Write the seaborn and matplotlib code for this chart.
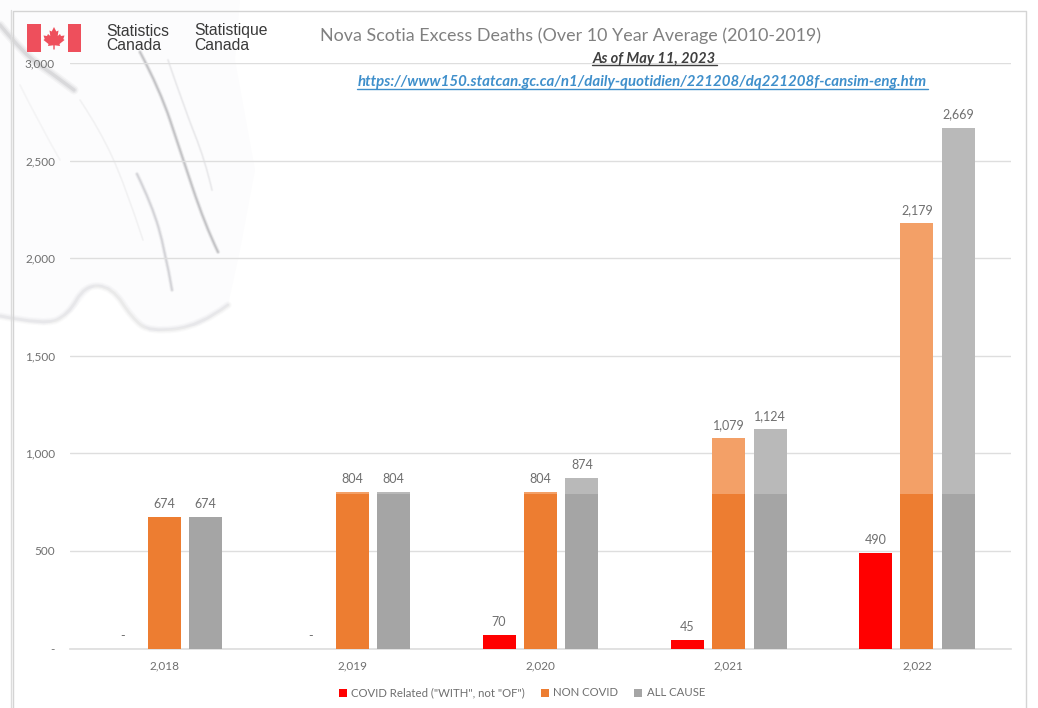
import matplotlib
matplotlib.use("Agg")
import matplotlib.pyplot as plt
import pandas as pd
import seaborn as sns
from matplotlib.patches import PathPatch, Polygon, Rectangle
from matplotlib.path import Path

years = ['2,018', '2,019', '2,020', '2,021', '2,022']
series_names = ['COVID Related ("WITH", not "OF")', 'NON COVID', 'ALL CAUSE']
covid_related = [0, 0, 70, 45, 490]
non_covid = [674, 804, 804, 1079, 2179]
all_cause = [674, 804, 874, 1124, 2669]
# the darker bottom part of the bars, 10 year average
average_deaths = 790

y_ticks = [0, 500, 1000, 1500, 2000, 2500, 3000]
y_labels = ['-', '500', '1,000', '1,500', '2,000', '2,500', '3,000']

W, H = 1038, 708
LABEL_GREY = '#6f6f6f'
GRID_GREY = '#dedede'


def smooth_path(points):
    # quadratic curve through the midpoints, keeps the watermark from looking like a polyline
    verts = [points[0]]
    codes = [Path.MOVETO]
    for i in range(1, len(points) - 1):
        next_point = points[i + 1]
        if i < len(points) - 2:
            next_point = ((points[i][0] + points[i + 1][0]) / 2, (points[i][1] + points[i + 1][1]) / 2)
        verts += [points[i], next_point]
        codes += [Path.CURVE3, Path.CURVE3]
    return Path(verts, codes)


def soft_stroke(target, points, width, strength):
    # a few widths on top of each other to get a blurred edge
    for factor, part in [(2.2, 0.25), (1.5, 0.35), (0.8, 0.6)]:
        target.add_patch(PathPatch(smooth_path(points), facecolor='none', edgecolor='#66666c',
                                   lw=width * factor, alpha=strength * part, capstyle='round'))


sns.set_theme(style="white")
plt.rcParams['font.family'] = ['Lato', 'DejaVu Sans']

fig = plt.figure(figsize=(W / 100, H / 100), dpi=100)
fig.patch.set_facecolor('white')

# background layer in pixel coordinates: watermark, logo and frame
bg = fig.add_axes([0, 0, 1, 1], zorder=0)
bg.set_xlim(0, W)
bg.set_ylim(H, 0)
bg.axis('off')

blob = [(0, 0), (240, 0), (235, 60), (255, 170), (240, 250), (228, 305), (200, 325), (150, 332),
        (132, 312), (115, 290), (95, 285), (72, 312), (45, 325), (0, 318)]
bg.add_patch(Polygon(blob, closed=True, facecolor='#fcfcfd', edgecolor='none'))

soft_stroke(bg, [(0, 316), (45, 325), (68, 315), (85, 285), (112, 287), (132, 318), (150, 332), (200, 326),
                 (228, 305)], 2.5, 0.11)
soft_stroke(bg, [(140, 52), (160, 90), (180, 150), (205, 225), (218, 252)], 1.5, 0.34)
soft_stroke(bg, [(168, 60), (185, 110), (205, 160), (212, 190)], 1, 0.1)
soft_stroke(bg, [(137, 174), (152, 205), (165, 250), (172, 290)], 1.5, 0.22)
soft_stroke(bg, [(80, 100), (100, 130), (125, 185), (143, 240)], 0.8, 0.06)
soft_stroke(bg, [(0, 25), (25, 55), (50, 72), (74, 90)], 3, 0.2)
soft_stroke(bg, [(20, 85), (40, 125), (60, 160)], 0.8, 0.04)

# frame of the chart
bg.plot([13, 13, 1026, 1026], [H, 11, 11, H], color='#d4d4d4', lw=1)
bg.plot([11, 11], [10, H], color='#dcdcdc', lw=1)

# flag
flag_red = '#ee4f5c'
bg.add_patch(Rectangle((27, 24), 14, 27.5, facecolor=flag_red, edgecolor='none'))
bg.add_patch(Rectangle((67.5, 24), 13.5, 27.5, facecolor=flag_red, edgecolor='none'))
leaf = [(54, 27), (56.3, 31.5), (58.5, 30.5), (57.7, 36), (60, 34), (61, 36), (64.5, 35.5), (63.3, 39),
        (64.5, 40), (59.5, 44), (60, 46), (54.7, 45.3), (54.7, 49.5), (53.3, 49.5), (53.3, 45.3), (48, 46),
        (48.5, 44), (43.5, 40), (44.7, 39), (43.5, 35.5), (47, 36), (48, 34), (50.3, 36), (49.5, 30.5),
        (51.7, 31.5)]
bg.add_patch(Polygon(leaf, closed=True, facecolor=flag_red, edgecolor='none'))

for x, top, bottom in [(106, 'Statistics', 'Canada'), (194, 'Statistique', 'Canada')]:
    bg.text(x, 31, top, family='Liberation Sans', fontsize=11.3, color='#3a3a3a', va='center')
    bg.text(x, 46, bottom, family='Liberation Sans', fontsize=11.3, color='#3a3a3a', va='center')

# chart
ax = fig.add_axes([70 / W, 1 - 648.5 / H, (1011 - 70) / W, (648.5 - 63) / H], zorder=1)
ax.patch.set_alpha(0)

values = covid_related + non_covid + all_cause
df = pd.DataFrame({
    'year': years * 3,
    'series': [name for name in series_names for _ in years],
    'value': values,
})
df['base'] = [v if name == series_names[0] else min(v, average_deaths)
              for v, name in zip(df['value'], df['series'])]

light = dict(zip(series_names, ['#ff0000', '#f3a067', '#b9b9b9']))
dark = dict(zip(series_names, ['#ff0000', '#ed7d31', '#a5a5a5']))

sns.barplot(data=df, x='year', y='value', hue='series', palette=light, width=0.66, gap=0.2,
            saturation=1, legend=False, errorbar=None, linewidth=0, ax=ax, zorder=2)
top_containers = list(ax.containers)
sns.barplot(data=df, x='year', y='base', hue='series', palette=dark, width=0.66, gap=0.2,
            saturation=1, errorbar=None, linewidth=0, ax=ax, zorder=3)

# value labels, zero shows as a dash like in the spreadsheet
for container, vals in zip(top_containers, [covid_related, non_covid, all_cause]):
    labels = [f'{v:,}' if v else '-' for v in vals]
    ax.bar_label(container, labels=labels, padding=5, fontsize=9, color=LABEL_GREY, zorder=5)

ax.set_xlim(-0.5, 4.5)
ax.set_ylim(0, 3000)
ax.set_yticks(y_ticks, y_labels)
ax.set_xlabel('')
ax.set_ylabel('')
ax.tick_params(axis='both', length=0, labelsize=8.5, labelcolor=LABEL_GREY)
ax.tick_params(axis='y', pad=10.8)
ax.tick_params(axis='x', pad=8.5)
ax.grid(axis='y', color=GRID_GREY, lw=1)
ax.set_axisbelow(True)
sns.despine(ax=ax, left=True)
ax.spines['bottom'].set_color(GRID_GREY)

handles, names = ax.get_legend_handles_labels()
ax.legend(handles, names, loc='center', bbox_to_anchor=((522 - 70) / (1011 - 70), -44.5 / 585.5),
          ncol=3, frameon=False, fontsize=8.2, labelcolor=LABEL_GREY, handlelength=0.7, handleheight=0.7,
          handletextpad=0.4, columnspacing=1.4)

# titles are placed over the plot like text boxes in the sheet
bg_top = fig.add_axes([0, 0, 1, 1], zorder=2)
bg_top.set_xlim(0, W)
bg_top.set_ylim(H, 0)
bg_top.axis('off')
bg_top.text(570.5, 35.5, 'Nova Scotia Excess Deaths (Over 10 Year Average (2010-2019)', ha='center', va='center',
            fontsize=12.9, color='#808080')
bg_top.text(654.5, 58.5, 'As of May 11, 2023', ha='center', va='center', fontsize=10.5, color='#3f3f3f',
            fontweight='bold', fontstyle='italic')
bg_top.plot([592, 717], [65, 65], color='#3f3f3f', lw=1)
bg_top.text(642.5, 82, 'https://www150.statcan.gc.ca/n1/daily-quotidien/221208/dq221208f-cansim-eng.htm',
            ha='center', va='center', fontsize=10.85, color='#3f8fcb', fontweight='bold', fontstyle='italic')
bg_top.plot([357, 928], [88.5, 88.5], color='#3f8fcb', lw=1)

plt.savefig('out.png', dpi=100)
